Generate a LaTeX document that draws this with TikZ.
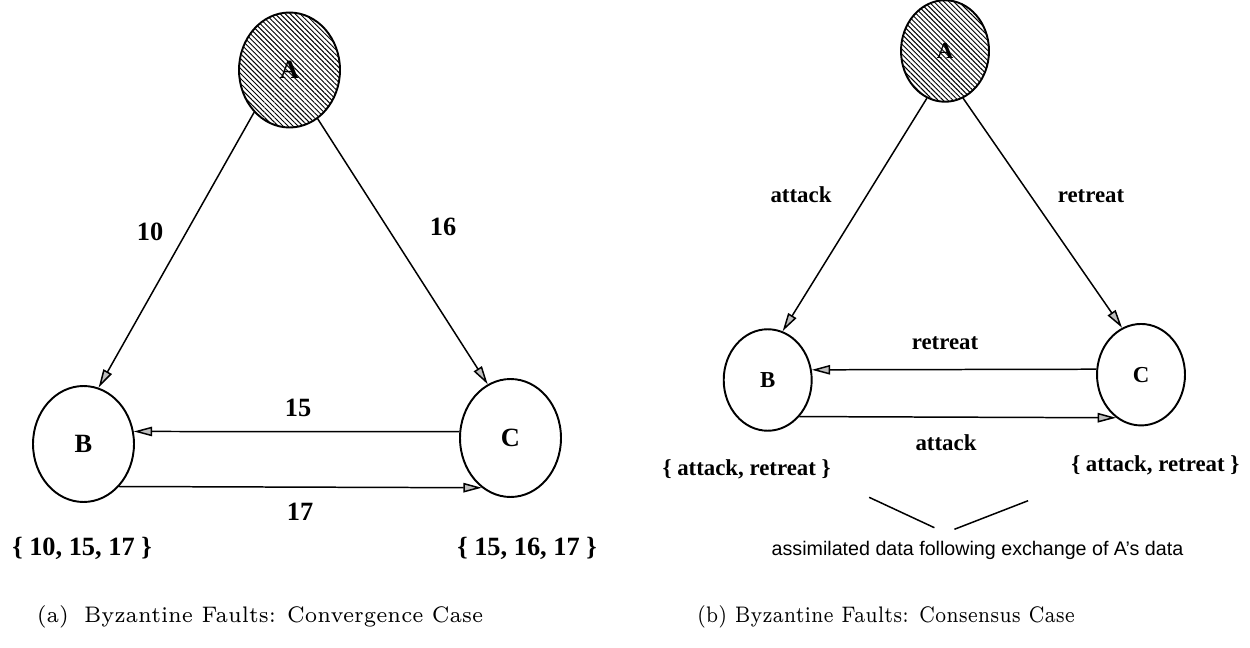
\documentclass[tikz,border=0pt]{standalone}
\usepackage{fontspec}
\newfontfamily\serifb{Liberation Serif}
\newfontfamily\sansf{Liberation Sans}
\usetikzlibrary{shapes.geometric,arrows.meta,patterns.meta}
% label fonts for the two graphs and the note
\newcommand\lblL{\serifb\bfseries\fontsize{15}{18}\selectfont}
\newcommand\lblR{\serifb\bfseries\fontsize{13}{16}\selectfont}
\newcommand\notefont{\sansf\fontsize{11.2}{13}\selectfont}
\newcommand\capfont{\rmfamily\fontsize{6}{7}\selectfont\addfontfeature{FakeBold=1}}

\tikzset{
  vtx/.style={ellipse, draw, line width=1.1pt, inner sep=0pt},
  hatch/.style={pattern={Lines[angle=-45,distance=2.0pt,line width=0.55pt]}},
  arr/.style={line width=0.85pt, line join=miter,
    -{Triangle[length=10.5pt,width=5.4pt,fill=gray!50]}},
  lL/.style={font=\lblL, inner sep=0pt},
  lR/.style={font=\lblR, inner sep=0pt},
  brace/.style={line width=0.85pt},
}

\begin{document}
\begin{tikzpicture}[x=0.02cm, y=-0.02cm]
\useasboundingbox (0,0) rectangle (1250,648);

% ---------- (a) convergence case ----------
\node[vtx, hatch, lL, minimum width=2.02cm, minimum height=2.30cm] (A) at (289.5,70) {A};
\node[vtx, lL, minimum width=2.02cm, minimum height=2.32cm] (B) at (83.5,444) {B};
\node[vtx, lL, minimum width=2.02cm, minimum height=2.36cm] (C) at (510.5,438) {C};

\draw[arr] (A.230) -- (B.75);
\draw[arr] (A.300) -- (C.113);
\draw[arr] (C.173) -- (B.14);
\draw[arr] (B.310) -- (C.240);

\node[lL] (n10) at (150,232) {10};
\node[lL] (n16) at (443,227) {16};
\node[lL] (n15) at (298,408) {15};
\node[lL] (n17) at (300,512) {17};
\node[lL] (setB) at (82,548) {\{ 10, 15, 17 \}};
\node[lL] (setC) at (527,548) {\{ 15, 16, 17 \}};

\node[inner sep=0pt] (capA) at (260,617) {\resizebox*{8.93cm}{0.45cm}{\capfont (a)\hspace{0.75em}Byzantine Faults: Convergence Case}};

% ---------- (b) consensus case ----------
\node[vtx, hatch, lR, minimum width=1.76cm, minimum height=2.03cm] (Ar) at (945,51) {A};
\node[vtx, lR, minimum width=1.76cm, minimum height=2.03cm] (Br) at (767.7,380) {B};
\node[vtx, lR, minimum width=1.76cm, minimum height=2.03cm] (Cr) at (1141,374.7) {C};

\draw[arr] (Ar.249) -- (Br.73);
\draw[arr] (Ar.291) -- (Cr.112);
\draw[arr] (Cr.173.5) -- (Br.13);
\draw[arr] (Br.311) -- (Cr.240);

\node[lR] (atkA) at (801,195) {attack};
\node[lR] (retA) at (1091,196) {retreat};
\node[lR] (retM) at (945,343.3) {retreat};
\node[lR] (atkM) at (946,442.7) {attack};
\node[lR] (setBr) at (746.6,469) {\{ attack, retreat \}};
\node[lR] (setCr) at (1155.3,465) {\{ attack, retreat \}};

\coordinate (p1) at (869.1,497.3);
\coordinate (p2) at (934.4,527.7);
\coordinate (p3) at (954.4,529.3);
\coordinate (p4) at (1028.1,500.7);
\draw[brace] (p1) -- (p2);
\draw[brace] (p3) -- (p4);
\node[font=\notefont, inner sep=0pt] (note) at (977.5,550) {assimilated data following exchange of A’s data};

\node[inner sep=0pt] (capB) at (886,617) {\resizebox*{7.56cm}{0.45cm}{\capfont (b) Byzantine Faults: Consensus Case}};
\end{tikzpicture}
\end{document}
